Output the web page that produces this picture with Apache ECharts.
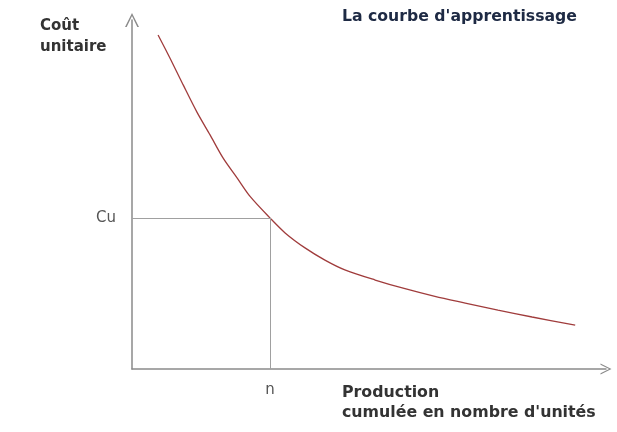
<!DOCTYPE html>
<html>
<head>
<meta charset="utf-8">
<script src="https://cdn.jsdelivr.net/npm/echarts@6/dist/echarts.min.js"></script>
<style>html,body{margin:0;padding:0;background:#fff}#c{width:617px;height:432px}</style>
</head>
<body>
<div id="c"></div>
<script>
var titleText = "La courbe d'apprentissage";
var yName = "Coût\nunitaire";
var xName = "Production\ncumulée en nombre d'unités";
var prodX = [5.5, 8.0, 10.8, 13.7, 16.5, 19.2, 22.2, 25.0, 29.1, 32.3, 36.5, 40.7, 44.9, 51.3, 57.6, 63.9, 70.3, 77.2, 84.4, 93.5];
var costY = [95.7, 89.1, 81.4, 73.6, 67.0, 60.5, 54.7, 49.3, 43.3, 39.0, 34.7, 31.2, 28.4, 25.5, 23.0, 20.8, 18.9, 16.9, 14.9, 12.6];
var nValue = 29.1;
var cuValue = 43.3;
var nLabel = "n";
var cuLabel = "Cu";

var chevron = 'path://M5,0 L10,10 L8.8,10 L5,2.2 L1.2,10 L0,10 Z';
var data = prodX.map(function (x, i) { return [x, costY[i]]; });
var font = 'DejaVu Sans';

var chart = echarts.init(document.getElementById('c'), null, {renderer: 'canvas'});
chart.setOption({
  animation: false,
  backgroundColor: '#fff',
  title: [
    {text: titleText, left: 337, top: 1, textStyle: {fontFamily: font, fontSize: 15.7, fontWeight: 'bold', color: '#1e2a44', lineHeight: 21}},
    {text: yName, left: 35, top: 11, textStyle: {fontFamily: font, fontSize: 15, fontWeight: 'bold', color: '#333', lineHeight: 21}},
    {text: xName, left: 337, top: 378, textStyle: {fontFamily: font, fontSize: 15.8, fontWeight: 'bold', color: '#333', lineHeight: 20}}
  ],
  grid: {left: 132, right: 11, top: 20, bottom: 63},
  xAxis: {
    type: 'value', min: 0, max: 100,
    splitLine: {show: false},
    axisLine: {lineStyle: {color: '#8a8a8a', width: 1.5}, symbol: ['none', chevron], symbolSize: [16, 11]},
    axisTick: {show: false},
    axisLabel: {
      customValues: [nValue], margin: 14,
      formatter: function () { return nLabel; },
      fontFamily: font, fontSize: 15, color: '#555'
    }
  },
  yAxis: {
    type: 'value', min: 0, max: 100,
    splitLine: {show: false},
    axisLine: {lineStyle: {color: '#8a8a8a', width: 1.5}, symbol: ['none', chevron], symbolSize: [14, 20]},
    axisTick: {show: false},
    axisLabel: {
      customValues: [cuValue], margin: 16,
      formatter: function () { return cuLabel; },
      fontFamily: font, fontSize: 15, color: '#555'
    }
  },
  series: [{
    type: 'line',
    data: data,
    smooth: 0.3,
    showSymbol: false,
    lineStyle: {color: '#a03c3c', width: 1.3},
    markLine: {
      silent: true,
      symbol: ['none', 'none'],
      label: {show: false},
      lineStyle: {color: '#a0a0a0', width: 1, type: 'solid'},
      data: [
        [{coord: [0, cuValue]}, {coord: [nValue, cuValue]}],
        [{coord: [nValue, cuValue]}, {coord: [nValue, 0]}]
      ]
    }
  }]
});
</script>
</body>
</html>
